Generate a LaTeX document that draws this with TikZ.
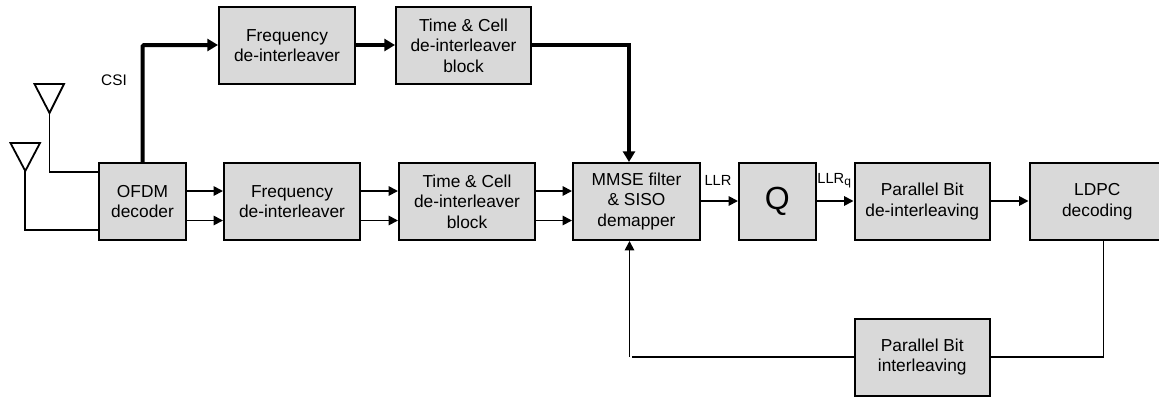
\documentclass[tikz,border=0pt]{standalone}
\usepackage{fontspec}
\setmainfont{Liberation Sans}
\usetikzlibrary{arrows.meta}
\definecolor{boxgray}{gray}{0.85}
\tikzset{
  x=0.75pt,y=-0.75pt,
  blockbox/.style={draw=black,fill=boxgray,line width=1.5pt,align=center,inner sep=0pt,font=\fontsize{13}{15.4}\selectfont},
  thin conn/.style={line width=1.35pt,draw=black},
  thin arrow/.style={thin conn,-{Triangle[length=7pt,width=7pt]}},
  thick arrow/.style={line width=3pt,draw=black,-{Triangle[length=8pt,width=9pt]}},
  lbl/.style={font=\fontsize{11.5}{13}\selectfont,inner sep=0pt},
  ant/.style={draw=black,line width=1.35pt,fill=white},
}
\newcommand{\blk}[6]{\node[blockbox,minimum width=#4*0.75pt-#2*0.75pt,minimum height=#5*0.75pt-#3*0.75pt] (#1) at ({(#2+#4)/2},{(#3+#5)/2}) {#6};}
\begin{document}
\begin{tikzpicture}
\useasboundingbox (0,0) rectangle (1159,396);
\clip (0,0) rectangle (1159,396);
\blk{ft}{219}{7}{355}{84}{Frequency\\de-interleaver}
\blk{tt}{396}{7}{531}{84}{Time \& Cell\\de-interleaver\\block}
\blk{ofdm}{99}{163}{186}{240}{OFDM\\decoder}
\blk{fb}{224}{163}{360}{240}{Frequency\\de-interleaver}
\blk{tb}{399}{163}{535}{240}{Time \& Cell\\de-interleaver\\block}
\blk{mmse}{573}{163}{700}{240}{MMSE filter\\\& SISO\\demapper}
\blk{q}{739}{163}{815.5}{240}{\fontsize{24}{26}\selectfont Q}
\blk{pd}{854.5}{163}{990}{240}{Parallel Bit\\de-interleaving}
\blk{ldpc}{1029.5}{163}{1165}{240}{LDPC\\decoding}
\blk{pi}{854.5}{318.5}{990}{395.5}{Parallel Bit\\interleaving}
% antennas
\draw[ant] (34.5,84) -- (64,84) -- (49.5,113) coordinate (a1) -- cycle;
\draw[ant] (10.5,143) -- (40,143) -- (25.3,171) coordinate (a2) -- cycle;
\draw[thin conn] (a1) |- (ofdm.west |- 0,172);
\draw[thin conn] (a2) |- (ofdm.west |- 0,229.7);
% CSI path
\draw[thick arrow,rounded corners=1pt] (ofdm.north -| 142.5,163) -- (142.5,45) -- (ft.west |- 0,45);
\draw[thick arrow] (ft.east |- 0,45) -- (tt.west |- 0,45);
\draw[thick arrow] (tt.east |- 0,45) -| (mmse.north -| 629,163);
\node[lbl] (csi) at (114,80) {CSI};
% parallel arrows
\foreach \y in {191,220.5}{
  \draw[thin arrow] (ofdm.east |- 0,\y) -- (fb.west |- 0,\y);
  \draw[thin arrow] (fb.east |- 0,\y) -- (tb.west |- 0,\y);
  \draw[thin arrow] (tb.east |- 0,\y) -- (mmse.west |- 0,\y);
}
\draw[thin arrow] (mmse.east |- 0,201) -- (q.west |- 0,201);
\draw[thin arrow] (q.east |- 0,201) -- (pd.west |- 0,201);
\draw[thin arrow] (pd.east |- 0,201) -- (ldpc.west |- 0,201);
\node[lbl,font=\fontsize{11}{13}\selectfont] (llr) at (718,180.5) {LLR};
\node[lbl,font=\fontsize{11}{13}\selectfont] (llrq) at (834.5,181) {LLR\textsubscript{\fontsize{9}{9}\selectfont q}};
% feedback
\draw[thin conn] (ldpc.south -| 1103.5,240) |- (pi.east |- 0,356.7);
\draw[thin conn] (pi.west |- 0,356.7) -- (632,356.7) coordinate (fbk);
\draw[thin arrow] (629.5,356.7) -- (mmse.south -| 629.5,240);
\end{tikzpicture}
\end{document}
